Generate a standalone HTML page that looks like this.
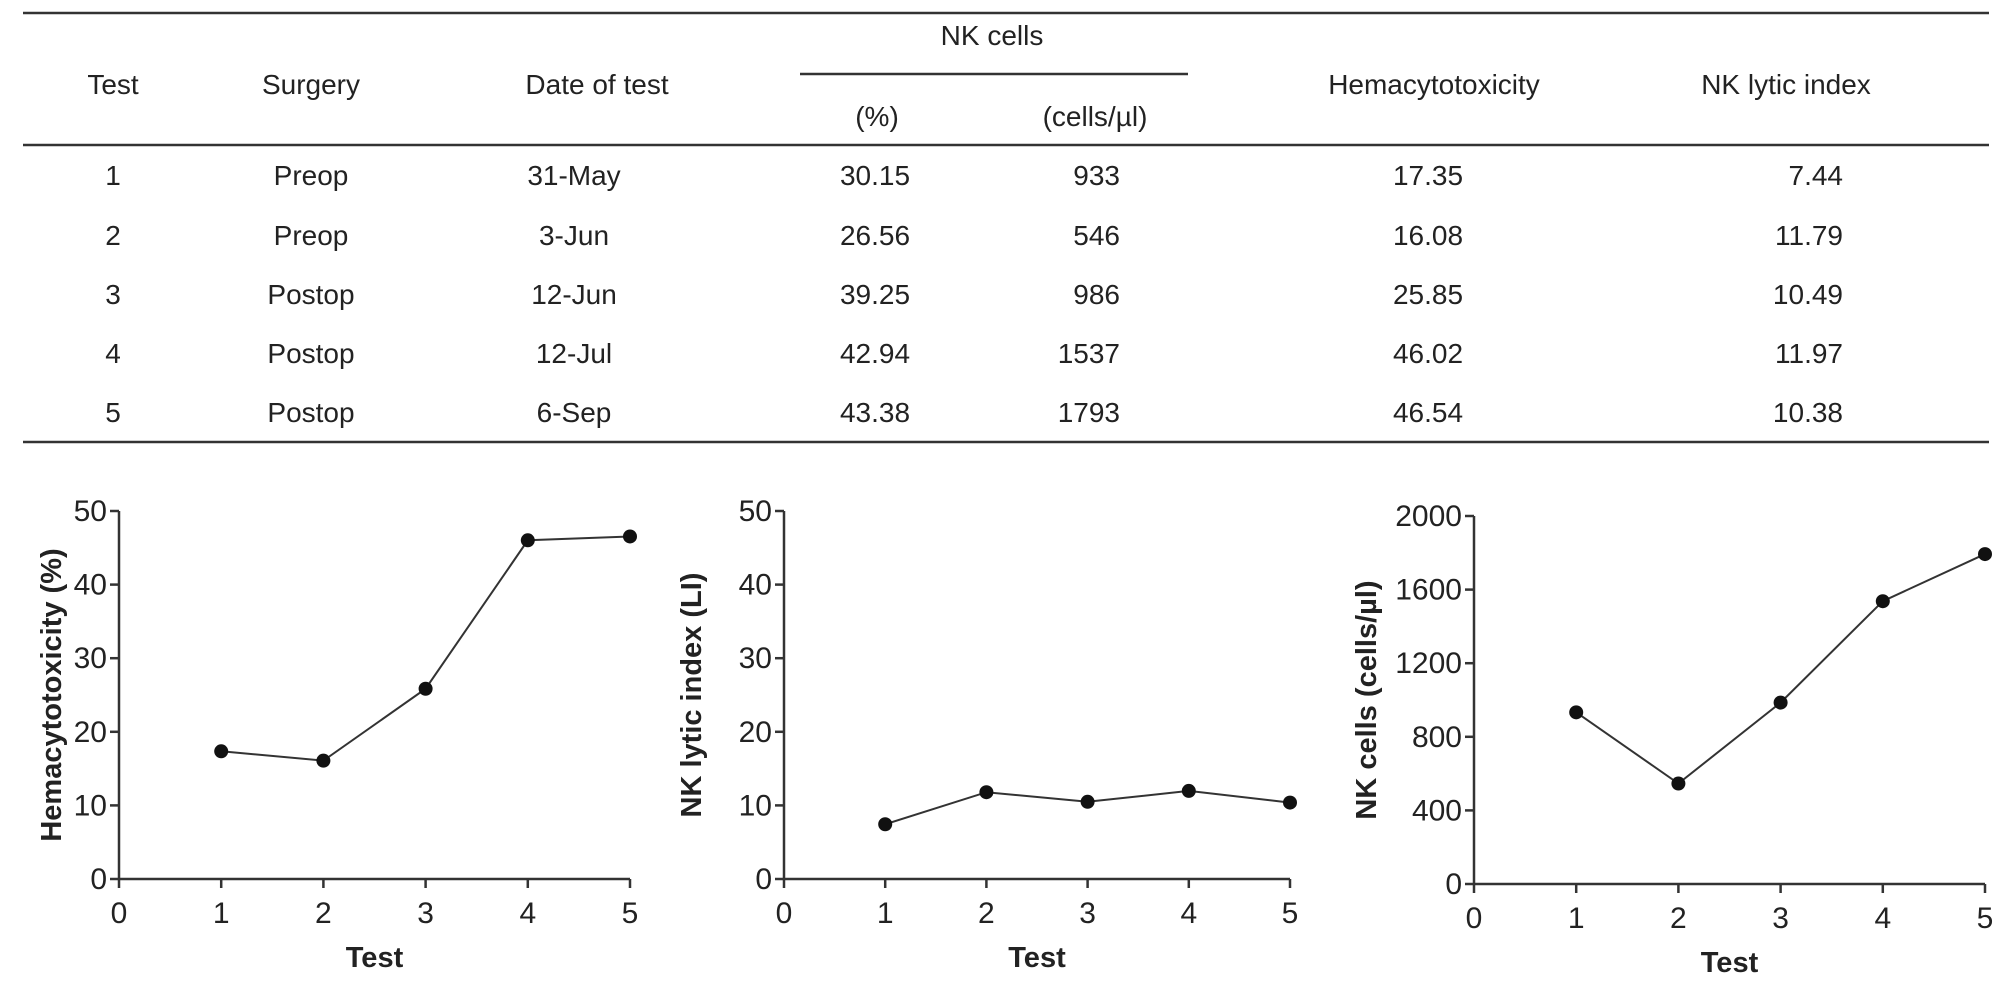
<!DOCTYPE html>
<html><head><meta charset="utf-8"><style>
html,body{margin:0;padding:0;background:#fff}
svg{display:block;font-family:"Liberation Sans",Arial,sans-serif}
</style></head><body>
<svg id="fig" width="2008" height="986" viewBox="0 0 2008 986">
<g id="table" fill="#222" font-size="28" text-anchor="middle"></g>
<g id="charts"></g>
</svg>
<script>
const tests=[1,2,3,4,5];
const surgery=["Preop","Preop","Postop","Postop","Postop"];
const dates=["31-May","3-Jun","12-Jun","12-Jul","6-Sep"];
const nkPct=["30.15","26.56","39.25","42.94","43.38"];
const nkCells=[933,546,986,1537,1793];
const hema=[17.35,16.08,25.85,46.02,46.54];
const lytic=[7.44,11.79,10.49,11.97,10.38];
const xTicks=[0,1,2,3,4,5];
const yTicksA=[0,10,20,30,40,50];
const yTicksC=[0,400,800,1200,1600,2000];

const NS="http://www.w3.org/2000/svg";
function mk(parent,tag,attrs,text){const e=document.createElementNS(NS,tag);for(const k in attrs)e.setAttribute(k,attrs[k]);if(text!==undefined)e.textContent=text;parent.appendChild(e);return e;}

const T=document.getElementById('table');
function line(x1,y1,x2,y2,name){const l=mk(T,'line',{x1,y1,x2,y2,stroke:'#333','stroke-width':2.5});

}
line(23,13,1989,13,'table-top-rule');
line(800,74,1188,74,'nk-cells-rule');
line(23,145,1989,145,'header-rule');
line(23,442,1989,442,'table-bottom-rule');
const hdr=[["Test",113,94],["Surgery",311,94],["Date of test",597,94],["NK cells",992,45],["(%)",877,126],["(cells/\u00b5l)",1095,126],["Hemacytotoxicity",1434,94],["NK lytic index",1786,94]];
hdr.forEach(h=>{const t=mk(T,'text',{x:h[1],y:h[2]},h[0]);

});
const rowY=[185,245,304,363,422];
tests.forEach((t,i)=>{
 const y=rowY[i];
 const cells=[[String(t),113,'middle'],[surgery[i],311,'middle'],[dates[i],574,'middle'],[nkPct[i],875,'middle'],[String(nkCells[i]),1120,'end'],[hema[i].toFixed(2),1428,'middle'],[lytic[i].toFixed(2),1843,'end']];
 cells.forEach((c,j)=>{const e=mk(T,'text',{x:c[1],y:y,'text-anchor':c[2]},c[0]);
 
 });
});

const C=document.getElementById('charts');
function chart(name,x0,x5,yTop,yBot,ticks,vals,label,labOff){
 const g=mk(C,'g',{});
 
 
 const ymax=ticks[ticks.length-1];
 const sx=v=>x0+(x5-x0)*v/5, sy=v=>yBot-(yBot-yTop)*v/ymax;
 const ax=mk(g,'path',{d:`M${x0},${yTop}V${yBot}H${x5}`,fill:'none',stroke:'#333','stroke-width':2.5});
 
 
 ticks.forEach(t=>{mk(g,'line',{x1:x0-9,x2:x0,y1:sy(t),y2:sy(t),stroke:'#333','stroke-width':2.5});
  const e=mk(g,'text',{x:x0-12,y:sy(t)+10,'text-anchor':'end','font-size':30,fill:'#222'},String(t));
  
  });
 xTicks.forEach(t=>{mk(g,'line',{x1:sx(t),x2:sx(t),y1:yBot,y2:yBot+9,stroke:'#333','stroke-width':2.5});
  const e=mk(g,'text',{x:sx(t),y:yBot+44,'text-anchor':'middle','font-size':30,fill:'#222'},String(t));
  
  });
 const xt=mk(g,'text',{x:(x0+x5)/2,y:yBot+88,'text-anchor':'middle','font-size':29,'font-weight':'bold',fill:'#222'},'Test');
 
 
 const lx=x0-labOff,ly=(yTop+yBot)/2;
 const yt=mk(g,'text',{x:lx,y:ly,transform:`rotate(-90 ${lx} ${ly})`,'text-anchor':'middle','font-size':29,'font-weight':'bold',fill:'#222'},label);
 
 
 const pts=vals.map((v,i)=>sx(tests[i])+','+sy(v)).join(' ');
 const pl=mk(g,'polyline',{points:pts,fill:'none',stroke:'#333','stroke-width':2});
 
 
 vals.forEach((v,i)=>{const c=mk(g,'circle',{cx:sx(tests[i]),cy:sy(v),r:7,fill:'#111'});
  
  });
}
chart('hemacytotoxicity-chart',119,630,511,879,yTicksA,hema,'Hemacytotoxicity (%)',58);
chart('nk-lytic-index-chart',784,1290,511,879,yTicksA,lytic,'NK lytic index (LI)',83);
chart('nk-cells-chart',1474,1985,516,884,yTicksC,nkCells,'NK cells (cells/\u00b5l)',98);
</script>
</body></html>
